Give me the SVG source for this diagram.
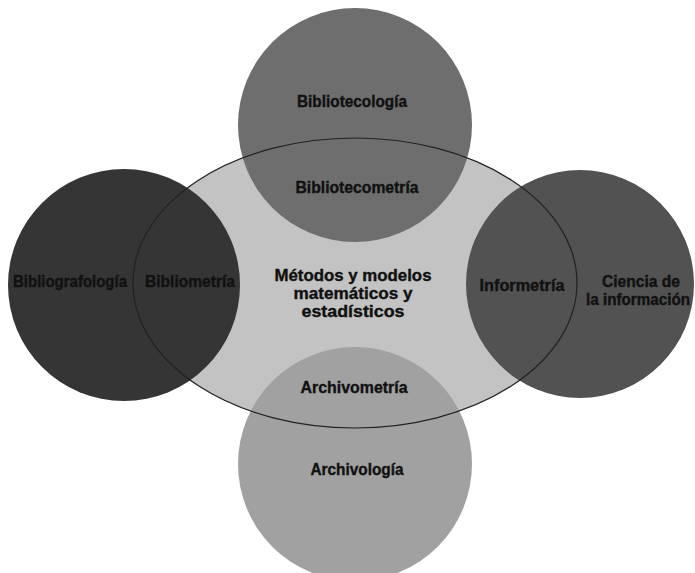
<svg xmlns="http://www.w3.org/2000/svg" width="695" height="573" viewBox="0 0 695 573">
<style>
text{font-family:"Liberation Sans Narrow","Liberation Sans",Arial,sans-serif;font-weight:bold;font-size:17px;fill:#111;stroke:#111;stroke-width:0.4;text-anchor:middle}
.outline{fill:none;stroke:#222;stroke-width:1.2}
</style>
<rect width="695" height="573" fill="#ffffff"/>
<g id="metodos">
<ellipse cx="355" cy="283" rx="222" ry="145" fill="#c3c3c3"/>
</g>
<g id="bibliotecologia">
<circle cx="355" cy="125" r="117" fill="#6e6e6e"/>
<text x="352" y="107" textLength="110" lengthAdjust="spacingAndGlyphs">Bibliotecología</text>
</g>
<g id="bibliografologia">
<circle cx="124" cy="285" r="116" fill="#353535"/>
<text x="70" y="287" textLength="114" lengthAdjust="spacingAndGlyphs">Bibliografología</text>
</g>
<g id="ciencia">
<circle cx="580" cy="284" r="114" fill="#525252"/>
<text x="641" y="287" textLength="78" lengthAdjust="spacingAndGlyphs">Ciencia de</text>
<text x="690" y="305" style="text-anchor:end" textLength="104" lengthAdjust="spacingAndGlyphs">la información</text>
</g>
<g id="archivologia">
<circle cx="355" cy="464" r="117" fill="#a1a1a1"/>
<text x="357" y="475" textLength="93" lengthAdjust="spacingAndGlyphs">Archivología</text>
</g>
<g id="connectors">
<ellipse class="outline" cx="355" cy="283" rx="222" ry="145"/>
</g>
<g id="labels">
<text x="357" y="193" textLength="123" lengthAdjust="spacingAndGlyphs">Bibliotecometría</text>
<text x="190" y="287" textLength="90" lengthAdjust="spacingAndGlyphs">Bibliometría</text>
<text x="522" y="291" textLength="85" lengthAdjust="spacingAndGlyphs">Informetría</text>
<text x="354" y="393" textLength="107" lengthAdjust="spacingAndGlyphs">Archivometría</text>
<text x="353" y="281" textLength="157" lengthAdjust="spacingAndGlyphs">Métodos y modelos</text>
<text x="353" y="299" textLength="119" lengthAdjust="spacingAndGlyphs">matemáticos y</text>
<text x="353" y="317" textLength="103" lengthAdjust="spacingAndGlyphs">estadísticos</text>
</g>
</svg>
